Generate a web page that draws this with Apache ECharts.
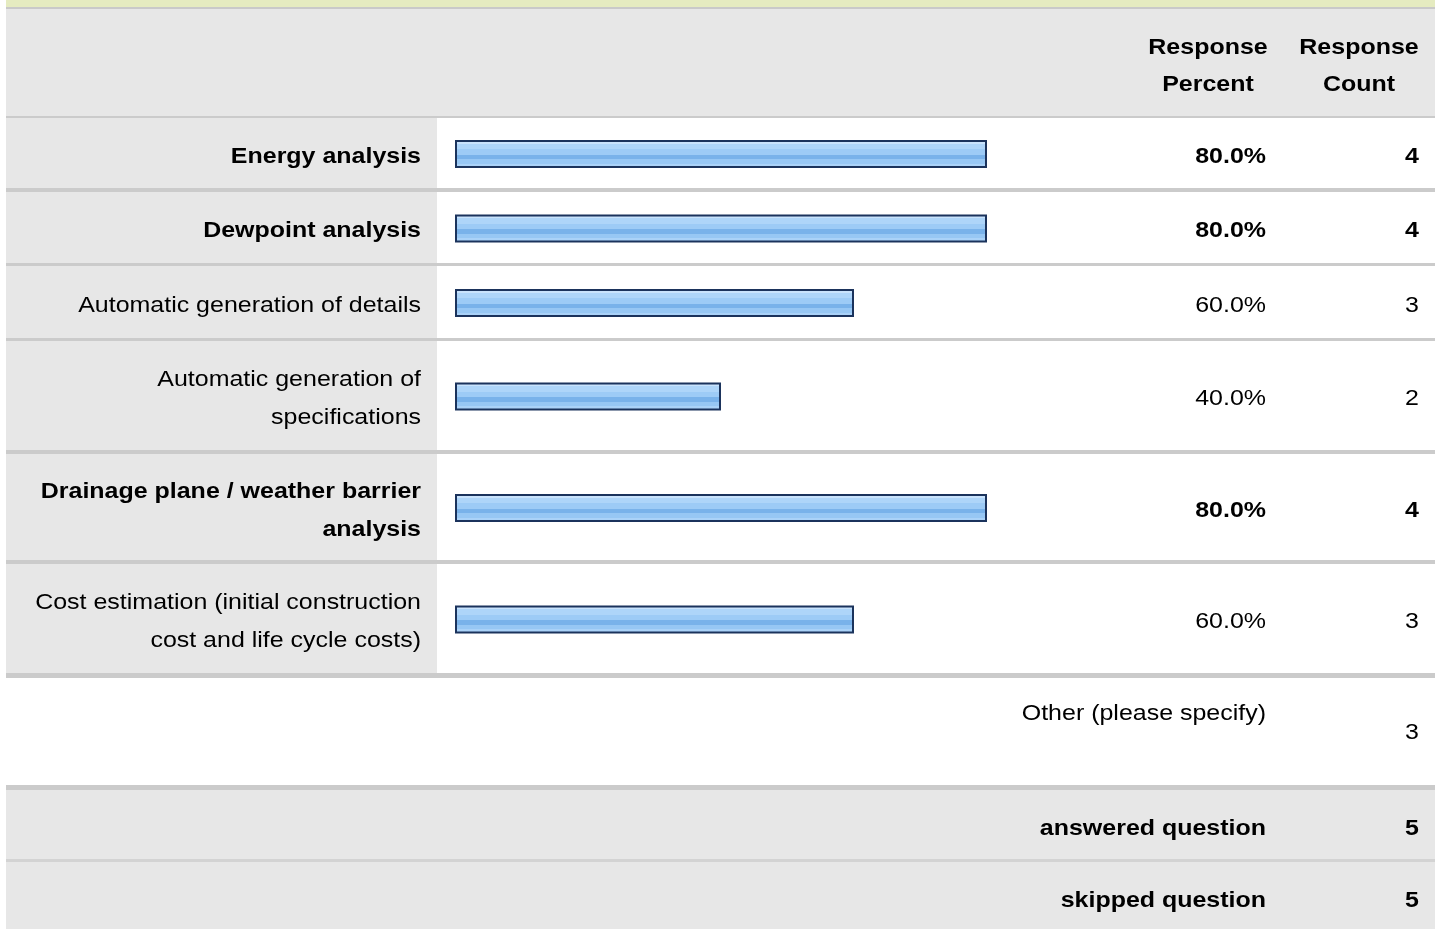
<!DOCTYPE html>
<html>
<head>
<meta charset="utf-8">
<title>Survey responses</title>
<script src="https://cdn.jsdelivr.net/npm/echarts@6/dist/echarts.min.js"></script>
<style>
  html, body { margin: 0; padding: 0; background: #fff; }
  #chart { width: 1442px; height: 929px; }
</style>
</head>
<body>
<div id="chart"></div>
<script>
// Answer options and their results
const categories = [
  'Energy analysis',
  'Dewpoint analysis',
  'Automatic generation of details',
  'Automatic generation of specifications',
  'Drainage plane / weather barrier analysis',
  'Cost estimation (initial construction cost and life cycle costs)'
];
const percents = [80.0, 80.0, 60.0, 40.0, 80.0, 60.0];
const counts = [4, 4, 3, 2, 4, 3];
const headerPercent = ['Response', 'Percent'];
const headerCount = ['Response', 'Count'];
const otherLabel = 'Other (please specify)';
const otherCount = 3;
const summaryLabels = ['answered question', 'skipped question'];
const summaryCounts = [5, 5];

// Table geometry (pixels)
const LEFT = 6, RIGHT = 1435, LABEL_RIGHT = 437, LABEL_X = 421;
const PCT_X = 1266, CNT_X = 1419;
const BAR_LEFT = 455, BAR_FULL = 665;
const rowSpans = [[118, 188], [192, 263], [266, 338], [341, 450], [454, 560], [564, 673]];
const sepSpans = [[188, 192], [263, 266], [338, 341], [450, 454], [560, 564], [673, 678]];
const GRAY = '#e7e7e7', SEP = '#cbcbcb';
const FONT_FAMILY = '"Liberation Sans", Arial, Helvetica, sans-serif';
const FONT_SIZE = 22, STRETCH = 1.135, LINE_H = 38, WRAP_W = 360;

const maxPct = Math.max(...percents);

function fontOf(bold) { return (bold ? 'bold ' : '') + FONT_SIZE + 'px ' + FONT_FAMILY; }

// Word-wrap a label to the width of the label column
const measureCtx = document.createElement('canvas').getContext('2d');
function wrap(str, bold) {
  measureCtx.font = fontOf(bold);
  const words = str.split(' ');
  const lines = [];
  let cur = '';
  words.forEach(w => {
    const test = cur ? cur + ' ' + w : w;
    if (cur && measureCtx.measureText(test).width > WRAP_W) {
      lines.push(cur);
      cur = w;
    } else {
      cur = test;
    }
  });
  if (cur) lines.push(cur);
  return lines.join('\n');
}

// Striped glossy fill of the response bars
const barFill = new echarts.graphic.LinearGradient(0, 0, 0, 1, [
  { offset: 0.00, color: '#c9e3fc' }, { offset: 0.13, color: '#c9e3fc' },
  { offset: 0.13, color: '#aed5f9' }, { offset: 0.33, color: '#aed5f9' },
  { offset: 0.33, color: '#9dcbf6' }, { offset: 0.53, color: '#9dcbf6' },
  { offset: 0.53, color: '#79b2ea' }, { offset: 0.69, color: '#79b2ea' },
  { offset: 0.69, color: '#97c7f4' }, { offset: 0.85, color: '#97c7f4' },
  { offset: 0.85, color: '#aad2f8' }, { offset: 1.00, color: '#aad2f8' }
]);

const graphics = [];
function rect(x1, y1, x2, y2, fill) {
  graphics.push({ type: 'rect', silent: true, z: -5,
    shape: { x: x1, y: y1, width: x2 - x1, height: y2 - y1 }, style: { fill } });
}
function text(str, x, y, align, bold) {
  graphics.push({ type: 'text', silent: true, z: 10, x, y, scaleX: STRETCH,
    style: { text: str, fill: '#000', font: fontOf(bold), lineHeight: LINE_H,
      align, verticalAlign: 'middle' } });
}

// Header band
rect(LEFT, 0, RIGHT, 7, '#e5ebc0');
rect(LEFT, 7, RIGHT, 9, '#c9c9c9');
rect(LEFT, 9, RIGHT, 116, GRAY);
rect(LEFT, 116, RIGHT, 118, SEP);
text(headerPercent[0], 1208, 48, 'center', true);
text(headerPercent[1], 1208, 85, 'center', true);
text(headerCount[0], 1359, 48, 'center', true);
text(headerCount[1], 1359, 85, 'center', true);

// Option rows: label cell, separator, label, percent and count
rowSpans.forEach(([t, b], i) => {
  rect(LEFT, t, LABEL_RIGHT, b, GRAY);
  rect(LEFT, sepSpans[i][0], RIGHT, sepSpans[i][1], SEP);
  const bold = percents[i] === maxPct;
  const cy = (t + b) / 2 + 3.5;
  text(wrap(categories[i], bold), LABEL_X, cy, 'right', bold);
  text(percents[i].toFixed(1) + '%', PCT_X, cy, 'right', bold);
  text(String(counts[i]), CNT_X, cy, 'right', bold);
});

// Other row
text(otherLabel, PCT_X, 714, 'right', false);
text(String(otherCount), CNT_X, 733, 'right', false);
rect(LEFT, 785, RIGHT, 790, SEP);

// Summary rows
rect(LEFT, 790, RIGHT, 859, GRAY);
rect(LEFT, 859, RIGHT, 862, '#d3d3d3');
rect(LEFT, 862, RIGHT, 929, GRAY);
text(summaryLabels[0], PCT_X, 829, 'right', true);
text(String(summaryCounts[0]), CNT_X, 829, 'right', true);
text(summaryLabels[1], PCT_X, 901, 'right', true);
text(String(summaryCounts[1]), CNT_X, 901, 'right', true);

// One grid per row so each row keeps its own height
const grid = [], xAxis = [], yAxis = [], series = [];
rowSpans.forEach(([t, b], i) => {
  grid.push({ left: BAR_LEFT, width: BAR_FULL, top: t + 1, height: b - t, containLabel: false });
  xAxis.push({ type: 'value', gridIndex: i, min: 0, max: 100, show: false });
  yAxis.push({
    type: 'category', gridIndex: i, data: [categories[i]],
    axisLine: { show: false }, axisTick: { show: false }, splitLine: { show: false },
    axisLabel: { show: false }
  });
  series.push({
    type: 'bar', xAxisIndex: i, yAxisIndex: i, data: [percents[i]],
    barWidth: 28, silent: true, animation: false,
    itemStyle: { color: barFill, borderColor: '#1b335c', borderWidth: 2 }
  });
});

const chart = echarts.init(document.getElementById('chart'), null, { renderer: 'canvas' });
chart.setOption({
  backgroundColor: '#ffffff',
  animation: false,
  grid, xAxis, yAxis, series,
  graphic: { elements: graphics }
});
</script>
</body>
</html>
